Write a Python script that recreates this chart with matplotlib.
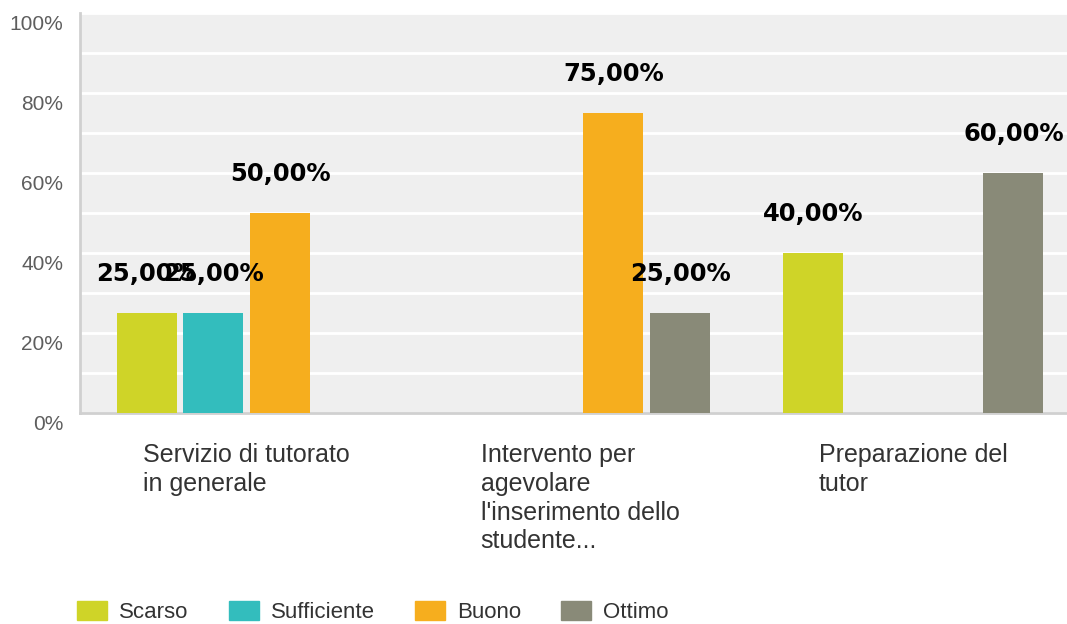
import numpy as np
import matplotlib
matplotlib.use('Agg')
import matplotlib.pyplot as plt
import matplotlib.patches as mpatches
import matplotlib.transforms as mtransforms

# データ
categories = ["Servizio di tutorato\nin generale",
              "Intervento per\nagevolare\nl'inserimento dello\nstudente...",
              "Preparazione del\ntutor"]
series_names = ["Scarso", "Sufficiente", "Buono", "Ottimo"]
scarso = [25, 0, 40]
sufficiente = [25, 0, 0]
buono = [50, 75, 0]
ottimo = [0, 25, 60]
series_colors = ["#CFD428", "#33BDBD", "#F6AE1E", "#898A78"]

y_ticks = [0, 20, 40, 60, 80, 100]
y_tick_labels = ["0%", "20%", "40%", "60%", "80%", "100%"]

fig = plt.figure(figsize=(10.67, 6.24), dpi=100)
ax = fig.add_axes([80 / 1067, 1 - 413 / 624, 1000 / 1067, 400 / 624])
ax.set_facecolor("#EFEFEF")

x = np.arange(len(categories))
width = 0.18
step = 0.2
values = [scarso, sufficiente, buono, ottimo]

for i, (vals, color) in enumerate(zip(values, series_colors)):
    pos = x + (i - 1.5) * step
    ax.bar(pos, vals, width=width, color=color, zorder=3)
    # 値ラベル
    for px, v in zip(pos, vals):
        if v > 0:
            ax.annotate(f"{v:.2f}%".replace(".", ","), (px, v),
                        xytext=(0, 32), textcoords="offset pixels",
                        ha="center", va="baseline", fontsize=17.5,
                        fontweight="bold", family="DejaVu Sans",
                        color="black", zorder=4)

ax.set_xlim(-0.5, 2.5)
ax.set_ylim(0, 100)

# グリッド
ax.set_yticks(y_ticks)
ax.set_yticks(np.arange(10, 100, 20), minor=True)
ax.set_yticklabels(y_tick_labels, fontsize=15, family="Liberation Sans", color="#5E5E5E")
ax.grid(axis="y", which="both", color="white", linewidth=2, zorder=1)
ax.tick_params(axis="y", which="both", length=0, pad=12)
ax.set_xticks([])

offset = mtransforms.ScaledTranslation(0, -10 / 100, fig.dpi_scale_trans)
for lab in ax.get_yticklabels():
    lab.set_transform(lab.get_transform() + offset)

for s in ["top", "right"]:
    ax.spines[s].set_visible(False)
ax.spines["left"].set_color("#D0D0D0")
ax.spines["left"].set_linewidth(2)
ax.spines["bottom"].set_color("#D0D0D0")
ax.spines["bottom"].set_linewidth(2)

# カテゴリラベル
for xi, cat in zip(x, categories):
    ax.annotate(cat, (xi, 0), xytext=(0, -30), textcoords="offset pixels",
                ha="center", va="top", multialignment="left",
                fontsize=18, family="Liberation Sans", color="#333333",
                linespacing=1.25, annotation_clip=False)

# 凡例
handles = [mpatches.Patch(color=c, label=n) for n, c in zip(series_names, series_colors)]
fig.legend(handles=handles, loc="center left", bbox_to_anchor=(77 / 1067, 1 - 612 / 624),
           ncol=4, frameon=False, borderpad=0, borderaxespad=0,
           handlelength=1.35, handleheight=0.9, handletextpad=0.55, columnspacing=1.8,
           prop={"family": "Liberation Sans", "size": 16}, labelcolor="#333333")

plt.savefig("out.png", dpi=100)
